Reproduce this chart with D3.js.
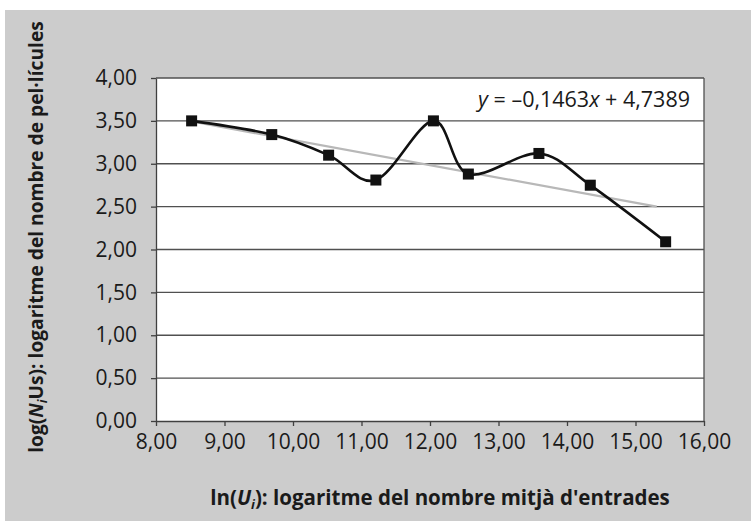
<!DOCTYPE html>
<html>
<head>
<meta charset="utf-8">
<script src="https://cdn.jsdelivr.net/npm/d3@7"></script>
<style>
  html, body { margin: 0; padding: 0; background: #fff; }
  svg { display: block; }
  text { font-family: "Open Sans", "Noto Sans", sans-serif; fill: #1a1a1a; }
</style>
</head>
<body>
<script>
// ln(U_i): logarithm of the mean number of admissions
const lnU = [8.52, 9.69, 10.52, 11.21, 12.05, 12.56, 13.59, 14.34, 15.44];
// log(N_i Us): logarithm of the number of films
const logN = [3.50, 3.34, 3.10, 2.81, 3.50, 2.88, 3.12, 2.75, 2.09];

// Linear trend line fitted to the series
const trendSlope = -0.1463;
const trendIntercept = 4.7389;
const trendRange = [8.52, 15.31];

const xTicks = [8, 9, 10, 11, 12, 13, 14, 15, 16];
const yTicks = [0, 0.5, 1, 1.5, 2, 2.5, 3, 3.5, 4];

const W = 751, H = 521;
const plot = { left: 156, right: 704, top: 78, bottom: 421 };

const fmt = v => d3.format(".2f")(v).replace(".", ",");

const svg = d3.select("body").append("svg")
  .attr("width", W).attr("height", H);

// grey chart frame
svg.append("rect")
  .attr("x", 5).attr("y", 10)
  .attr("width", W - 5).attr("height", H - 10)
  .attr("fill", "#cccccc");

const x = d3.scaleLinear().domain([8, 16]).range([plot.left, plot.right]);
const y = d3.scaleLinear().domain([0, 4]).range([plot.bottom, plot.top]);

// plot area
svg.append("rect")
  .attr("x", plot.left).attr("y", plot.top)
  .attr("width", plot.right - plot.left).attr("height", plot.bottom - plot.top)
  .attr("fill", "#ffffff");

// horizontal gridlines
svg.append("g")
  .selectAll("line")
  .data(yTicks.filter(d => d > 0))
  .join("line")
  .attr("x1", plot.left).attr("x2", plot.right)
  .attr("y1", d => y(d)).attr("y2", d => y(d))
  .attr("stroke", "#505050").attr("stroke-width", 1.3);

// right border of the plot area
svg.append("line")
  .attr("x1", plot.right).attr("x2", plot.right)
  .attr("y1", plot.top).attr("y2", plot.bottom)
  .attr("stroke", "#505050").attr("stroke-width", 1.3);

// axes
const xAxis = svg.append("g")
  .attr("transform", `translate(0,${plot.bottom})`)
  .call(d3.axisBottom(x).tickValues(xTicks).tickFormat(fmt).tickSizeInner(5).tickSizeOuter(0).tickPadding(8));
const yAxis = svg.append("g")
  .attr("transform", `translate(${plot.left},0)`)
  .call(d3.axisLeft(y).tickValues(yTicks).tickFormat(fmt).tickSizeInner(5).tickSizeOuter(0).tickPadding(14));

[xAxis, yAxis].forEach(g => {
  g.select(".domain").attr("stroke", "#404040").attr("stroke-width", 1.3);
  g.selectAll(".tick line").attr("stroke", "#404040").attr("stroke-width", 1.3);
  g.selectAll(".tick text")
    .attr("font-size", 21)
    .attr("font-family", "'Open Sans', sans-serif")
    .attr("fill", "#1a1a1a");
});

// trend line
svg.append("line")
  .attr("x1", x(trendRange[0])).attr("y1", y(trendIntercept + trendSlope * trendRange[0]))
  .attr("x2", x(trendRange[1])).attr("y2", y(trendIntercept + trendSlope * trendRange[1]))
  .attr("stroke", "#b8b8b8").attr("stroke-width", 2.2);

// smoothed data line
const pts = lnU.map((v, i) => [v, logN[i]]);
svg.append("path")
  .datum(pts)
  .attr("d", d3.line().x(d => x(d[0])).y(d => y(d[1])).curve(d3.curveCardinal.tension(0)))
  .attr("fill", "none").attr("stroke", "#111").attr("stroke-width", 2.6);

// markers
const ms = 11;
svg.append("g")
  .selectAll("rect")
  .data(pts)
  .join("rect")
  .attr("x", d => x(d[0]) - ms / 2).attr("y", d => y(d[1]) - ms / 2)
  .attr("width", ms).attr("height", ms)
  .attr("fill", "#111");

// trend equation
const eq = svg.append("text")
  .attr("x", 690).attr("y", 107)
  .attr("text-anchor", "end")
  .attr("font-size", 21.5);
eq.append("tspan").attr("font-style", "italic").text("y");
eq.append("tspan").text(" = \u20130,1463");
eq.append("tspan").attr("font-style", "italic").text("x");
eq.append("tspan").text(" + 4,7389");

// x-axis title
const xt = svg.append("text")
  .attr("x", 440).attr("y", 505)
  .attr("text-anchor", "middle")
  .attr("font-size", 20.5).attr("font-weight", "bold");
xt.append("tspan").text("ln(");
xt.append("tspan").attr("font-style", "italic").text("U");
xt.append("tspan").attr("font-style", "italic").attr("font-size", 13).attr("dy", 4).text("i");
xt.append("tspan").attr("dy", -4).text("): logaritme del nombre mitjà d'entrades");

// y-axis title
const yt = svg.append("text")
  .attr("transform", "translate(43,237) rotate(-90)")
  .attr("text-anchor", "middle")
  .attr("font-size", 19.2).attr("font-weight", "bold");
yt.append("tspan").text("log(");
yt.append("tspan").attr("font-style", "italic").text("N");
yt.append("tspan").attr("font-style", "italic").attr("font-size", 12.5).attr("dy", 4).text("i");
yt.append("tspan").attr("dy", -4).text("Us): logaritme del nombre de pel·lícules");
</script>
</body>
</html>
